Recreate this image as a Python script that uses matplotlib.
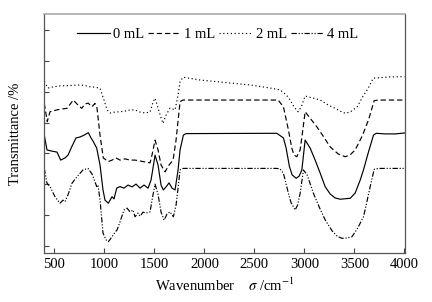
import matplotlib
matplotlib.use("Agg")
import matplotlib.pyplot as plt

plt.rcParams['font.family'] = ['Liberation Serif', 'DejaVu Serif']
plt.rcParams['mathtext.fontset'] = 'stix'

# 0 mL (solid)
wn0 = [400, 427, 477, 527, 564, 607, 637, 674, 717, 757, 797, 840, 867, 890, 924, 957, 987, 1007, 1040, 1077,
       1097, 1124, 1157, 1197, 1237, 1277, 1317, 1357, 1397, 1437, 1467, 1507, 1537, 1567, 1590, 1617, 1647, 1677,
       1707, 1737, 1757, 1790, 1817, 2724, 2790, 2817, 2850, 2877, 2917, 2947, 2974, 3007, 3057, 3107, 3157, 3207,
       3257, 3307, 3357, 3457, 3507, 3557, 3590, 3637, 3690, 3717, 3807, 3907, 4000]
t0 = [35.9, 31.1, 30.7, 30.4, 27.8, 28.5, 29.4, 32.1, 35.0, 35.3, 35.9, 36.7, 35.0, 33.8, 31.7, 26.2, 18.1, 14.8, 13.8, 15.9,
      15.2, 18.7, 19.2, 18.7, 19.7, 19.1, 20.0, 18.7, 19.7, 18.7, 21.3, 29.4, 26.2, 19.7, 18.1, 19.1, 20.4, 18.7,
      18.1, 24.6, 31.1, 35.9, 36.4, 36.5, 35.0, 31.7, 25.7, 23.0, 21.9, 22.6, 24.6, 34.3, 31.7, 27.8, 23.6, 19.2,
      16.8, 15.5, 15.1, 15.4, 17.1, 21.3, 24.6, 30.1, 35.9, 36.5, 36.3, 36.3, 36.6]

# 1 mL (dashed)
wn1 = [400, 430, 457, 527, 577, 627, 690, 727, 774, 807, 840, 874, 907, 927, 957, 990, 1040, 1077, 1117, 1157,
       1207, 1257, 1307, 1357, 1407, 1457, 1477, 1507, 1537, 1567, 1607, 1647, 1687, 1717, 1757, 1787, 2737, 2790,
       2840, 2874, 2897, 2924, 2957, 2977, 3007, 3057, 3124, 3187, 3257, 3337, 3407, 3457, 3507, 3577, 3640, 3697,
       3737, 4000]
t1 = [46.2, 40.3, 43.5, 44.1, 44.4, 44.6, 47.3, 46.0, 44.6, 46.0, 46.3, 45.1, 46.2, 44.7, 35.9, 28.5, 27.3, 27.8, 28.5, 27.8,
      28.2, 27.8, 27.8, 27.5, 27.2, 26.9, 29.5, 34.3, 31.1, 26.2, 24.0, 26.2, 27.8, 34.3, 46.8, 47.3, 47.3, 45.1,
      37.6, 31.6, 29.4, 28.9, 31.1, 35.9, 43.5, 41.4, 38.6, 35.6, 32.1, 29.8, 28.9, 29.5, 31.1, 35.6, 40.8, 47.1,
      47.3, 47.3]

# 2 mL (dotted)
wn2 = [400, 437, 477, 557, 657, 757, 807, 857, 907, 957, 997, 1027, 1057, 1107, 1157, 1207, 1257, 1307, 1357, 1407,
       1457, 1487, 1507, 1537, 1567, 1587, 1617, 1657, 1707, 1737, 1757, 1787, 1957, 2207, 2457, 2657, 2757, 2817,
       2857, 2897, 2937, 2967, 3007, 3077, 3157, 3237, 3307, 3357, 3407, 3457, 3527, 3587, 3637, 3687, 3737, 3857, 4000]
t2 = [53.3, 51.2, 51.5, 51.9, 52.0, 52.2, 52.0, 51.6, 51.5, 51.1, 47.3, 44.1, 43.1, 43.4, 43.5, 43.7, 44.1, 44.1, 43.4, 43.1,
      43.4, 46.7, 47.9, 44.7, 41.5, 39.7, 42.4, 44.7, 44.1, 48.9, 53.3, 54.7, 53.8, 53.0, 52.2, 51.2, 50.6, 49.0,
      47.3, 45.0, 43.5, 45.0, 48.6, 48.0, 47.3, 45.7, 44.6, 43.7, 43.0, 43.4, 45.1, 48.6, 51.1, 54.4, 54.5, 54.8, 54.9]

# 4 mL (dash-dot-dot)
wn4 = [400, 427, 457, 507, 557, 587, 607, 637, 677, 727, 787, 837, 877, 907, 924, 937, 957, 987, 1017, 1040,
       1077, 1107, 1127, 1157, 1197, 1227, 1257, 1287, 1307, 1337, 1357, 1387, 1417, 1457, 1477, 1507, 1537, 1567,
       1597, 1627, 1657, 1690, 1717, 1737, 1757, 1787, 2724, 2757, 2790, 2840, 2867, 2907, 2932, 2957, 2990, 3027,
       3090, 3147, 3207, 3277, 3327, 3374, 3417, 3474, 3527, 3590, 3617, 3657, 3697, 3737, 4000]
t4 = [25.1, 20.3, 19.2, 15.9, 13.8, 14.8, 14.3, 16.5, 20.3, 22.4, 24.6, 25.1, 23.3, 20.7, 19.2, 19.7, 14.8, 4.1, 1.9, 1.3,
      2.9, 4.4, 5.1, 7.8, 11.6, 12.2, 11.0, 11.6, 9.4, 10.6, 9.6, 10.9, 10.6, 11.0, 14.8, 20.0, 16.6, 10.9,
      8.3, 10.3, 11.0, 9.4, 13.2, 18.7, 24.6, 25.1, 25.1, 24.9, 23.5, 17.0, 13.9, 11.6, 13.2, 17.0, 24.6, 23.0,
      17.0, 12.6, 8.4, 4.8, 3.1, 2.4, 2.5, 2.9, 5.4, 9.4, 13.2, 19.2, 24.8, 25.1, 25.1]

labels = ["0 mL", "1 mL", "2 mL", "4 mL"]
xticks = [500, 1000, 1500, 2000, 2500, 3000, 3500, 4000]
yticks = [0, 10, 20, 30, 40, 50, 60, 70]

fs = 10.5
fig = plt.figure(figsize=(4.32, 3.02), dpi=100)
ax = fig.add_axes([0.1025, 0.1632, 0.835, 0.7894])

lw = 0.85
ax.plot(wn0, t0, color='black', lw=lw, label=labels[0])
ax.plot(wn1, t1, color='black', lw=lw, dashes=(4.5, 2.5), label=labels[1])
ax.plot(wn2, t2, color='black', lw=lw, dashes=(1, 2.2), label=labels[2])
ax.plot(wn4, t4, color='black', lw=lw, dashes=(4.5, 1.5, 1, 1.5, 1, 1.5), label=labels[3])

ax.set_xlim(400, 4005)
ax.set_ylim(-2.27, 75.13)
ax.set_xticks(xticks)
ax.set_yticks(yticks)
ax.set_yticklabels([])
ax.tick_params(direction='in', length=3.5, width=0.8, labelsize=fs, pad=4,
               top=False, right=False, colors='#444444', labelcolor='black')

for s in ['left', 'bottom', 'right']:
    ax.spines[s].set_color('#555555')
    ax.spines[s].set_linewidth(0.9)
ax.spines['top'].set_color('#aaaaaa')
ax.spines['top'].set_linewidth(1.2)

ax.set_ylabel("Transmittance /%", fontsize=fs, labelpad=12)
ax.set_xlabel(r"Wavenumber    $\sigma$ /cm$^{-1}$", fontsize=fs, labelpad=4)

ax.legend(loc='center', bbox_to_anchor=(0.48, 0.917), ncol=4, frameon=False,
          fontsize=fs, handlelength=2.3, handletextpad=0.2, columnspacing=0.25,
          borderpad=0, borderaxespad=0)

fig.savefig("out.png", dpi=100)
